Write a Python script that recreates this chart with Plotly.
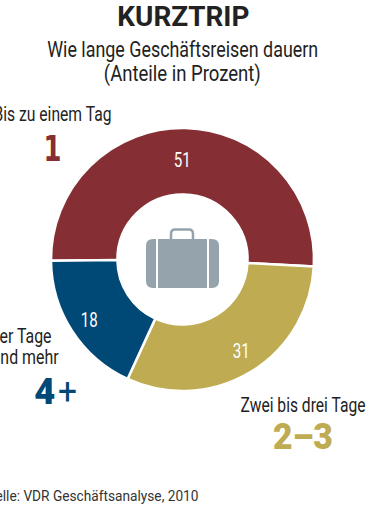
import json
import plotly.graph_objects as go

categories = ["Bis zu einem Tag", "Zwei bis drei Tage", "Vier Tage und mehr"]
values = [51, 31, 18]
colors = ["#852F35", "#BEAB52", "#004876"]
title = "KURZTRIP"
subtitle = ["Wie lange Geschäftsreisen dauern", "(Anteile in Prozent)"]
source = "Quelle: VDR Geschäftsanalyse, 2010"

W, H = 380, 507
BODY = "Roboto"
INK = "#222222"
ICON = "#95A4AC"


def px(x):
    return x / W


def py(y):
    return 1 - y / H


def text(x, y, s, size, color=INK, weight=400, family=BODY):
    return dict(x=px(x), y=py(y), xref="paper", yref="paper", text=s, showarrow=False,
                xanchor="center", yanchor="middle", align="center",
                font=dict(family=family, size=size, color=color, weight=weight))


fig = go.Figure(go.Pie(
    labels=categories, values=values, sort=False, direction="clockwise", rotation=269.5,
    hole=0.495, marker=dict(colors=colors, line=dict(color="white", width=2.5)),
    textinfo="none", showlegend=False,
    domain=dict(x=[px(51), px(314)], y=[py(391), py(128)]),
))

annotations = [
    text(183, 16, title, 28, weight=700),
    text(182, 49, subtitle[0], 22),
    text(182, 74, subtitle[1], 22),
    text(53, 114, "Bis zu einem Tag", 19.5),
    text(53, 149, "1", 36, colors[0], 700, "DejaVu Sans"),
    text(18, 336, "Vier Tage", 19.5),
    text(25.5, 357, "und mehr", 19.5),
    text(44.5, 391, "4", 37, colors[2], 900),
    text(67.5, 391, "+", 37, colors[2], 400),
    text(303, 405, "Zwei bis drei Tage", 19.5),
    text(303, 436, "2–3", 37, colors[1], 900),
    text(88, 496, source, 15.5, "#333333"),
    text(182, 160, str(values[0]), 20, "white"),
    text(241, 351, str(values[1]), 20, "white"),
    text(89, 320, str(values[2]), 20, "white"),
]


def rounded(x0, y0, x1, y1, rl, rr):
    return (f"M{px(x0+rl)},{py(y0)} L{px(x1-rr)},{py(y0)} "
            f"Q{px(x1)},{py(y0)} {px(x1)},{py(y0+rr)} L{px(x1)},{py(y1-rr)} "
            f"Q{px(x1)},{py(y1)} {px(x1-rr)},{py(y1)} L{px(x0+rl)},{py(y1)} "
            f"Q{px(x0)},{py(y1)} {px(x0)},{py(y1-rl)} L{px(x0)},{py(y0+rl)} "
            f"Q{px(x0)},{py(y0)} {px(x0+rl)},{py(y0)} Z")


shapes = [
    dict(type="path", xref="paper", yref="paper", line=dict(width=0), fillcolor=ICON,
         path=rounded(146, 239, 156, 288, 7, 0)),
    dict(type="path", xref="paper", yref="paper", line=dict(width=0), fillcolor=ICON,
         path=rounded(158, 239, 207, 288, 0, 0)),
    dict(type="path", xref="paper", yref="paper", line=dict(width=0), fillcolor=ICON,
         path=rounded(209, 239, 219, 288, 0, 7)),
    dict(type="path", xref="paper", yref="paper", line=dict(color=ICON, width=2.5), fillcolor="rgba(0,0,0,0)",
         path=(f"M{px(171)},{py(239)} L{px(171)},{py(234)} Q{px(171)},{py(229.5)} {px(175)},{py(229.5)} "
               f"L{px(189)},{py(229.5)} Q{px(193)},{py(229.5)} {px(193)},{py(234)} L{px(193)},{py(239)}")),
]

fig.update_layout(width=W, height=H, autosize=False, margin=dict(l=0, r=0, t=0, b=0),
                  paper_bgcolor="white", plot_bgcolor="white",
                  annotations=annotations, shapes=shapes)

# No condensed face is installed, so the regular text is narrowed to the reference's widths.
widths = {
    title: 132, subtitle[0]: 271, subtitle[1]: 157, "Bis zu einem Tag": 118,
    "Vier Tage": 66, "und mehr": 67, "Zwei bis drei Tage": 125, source: 220,
    "2–3": 60, "1": 18, "4": 21, "+": 19,
    str(values[0]): 17, str(values[1]): 17, str(values[2]): 17,
}
post = """
document.body.style.margin='0';
var W = %s;
document.querySelectorAll('.annotation-text').forEach(function(t){
  var w = W[t.textContent];
  if (w) { t.setAttribute('textLength', w); t.setAttribute('lengthAdjust', 'spacingAndGlyphs'); }
});
""" % json.dumps(widths, ensure_ascii=False)
fig.write_html("out.html", config=dict(displayModeBar=False), post_script=post)
